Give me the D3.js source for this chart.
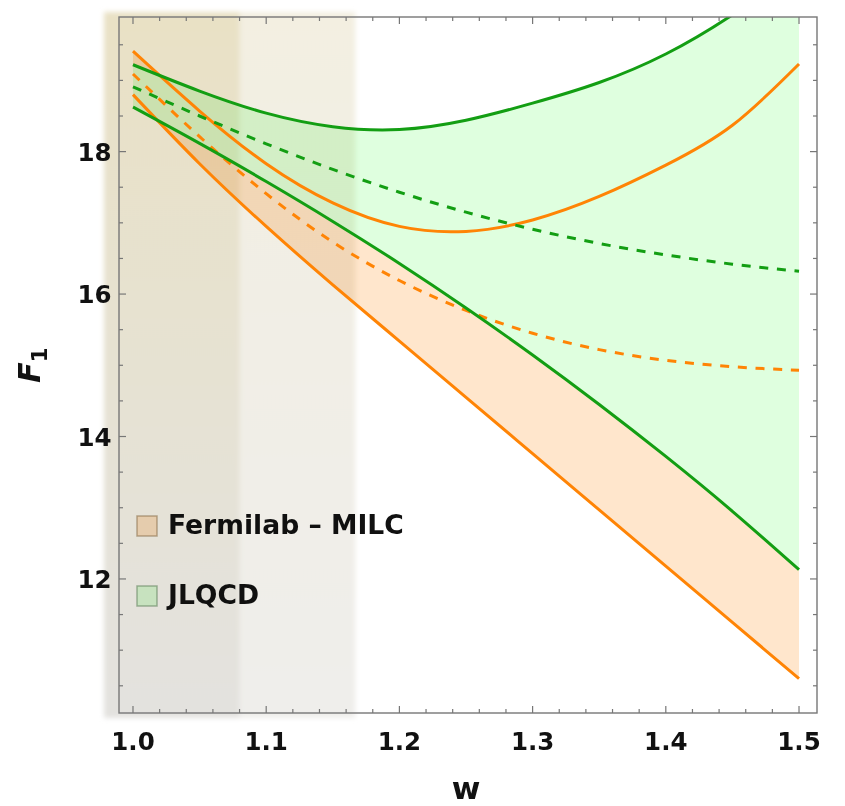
<!DOCTYPE html>
<html>
<head>
<meta charset="utf-8">
<script src="https://cdn.jsdelivr.net/npm/d3@7"></script>
<style>
  html, body { margin: 0; padding: 0; background: #fff; }
  svg { display: block; }
  text { font-family: "DejaVu Sans", sans-serif; font-weight: bold; fill: #111; }
</style>
</head>
<body>
<svg id="chart" width="845" height="806"></svg>
<script>
// Recoil variable grid and F1 form-factor bands
const wGrid = [1.00, 1.05, 1.10, 1.15, 1.20, 1.25, 1.30, 1.35, 1.40, 1.45, 1.50];

// Fermilab-MILC: upper edge, central value, lower edge
const fnalUpper   = [19.41, 18.57, 17.83, 17.28, 16.95, 16.88, 17.04, 17.37, 17.81, 18.37, 19.23];
const fnalCentral = [19.09, 18.21, 17.41, 16.73, 16.19, 15.77, 15.45, 15.22, 15.07, 14.98, 14.93];
const fnalLower   = [18.80, 17.83, 16.95, 16.13, 15.34, 14.55, 13.76, 12.97, 12.18, 11.39, 10.60];

// JLQCD: upper edge, central value, lower edge
const jlqcdUpper   = [19.22, 18.85, 18.54, 18.35, 18.31, 18.44, 18.68, 18.97, 19.37, 19.92, 20.58];
const jlqcdCentral = [18.91, 18.50, 18.11, 17.75, 17.43, 17.15, 16.91, 16.71, 16.55, 16.42, 16.32];
const jlqcdLower   = [18.625, 18.115, 17.58, 17.02, 16.43, 15.805, 15.145, 14.45, 13.72, 12.95, 12.13];

// Axis ticks
const xTicks = [1.0, 1.1, 1.2, 1.3, 1.4, 1.5];
const yTicks = [12, 14, 16, 18];
const xMinorStep = 0.02;
const yMinorStep = 0.5;

// Legend entries and the shaded w-ranges at small recoil (outer, inner)
const legendLabels = ["Fermilab \u2013 MILC", "JLQCD"];
const bandEnds = [1.167, 1.08];

const orangeLine = "#ff8405", greenLine = "#139e13";
const orangeFill = "#ffe6cc", greenFill = "#dfffdf";

const svg = d3.select("#chart");
const frame = { left: 119, right: 817, top: 17, bottom: 713 };

const x = d3.scaleLinear().domain([0.9895, 1.5135]).range([frame.left, frame.right]);
const y = d3.scaleLinear().domain([10.118, 19.89]).range([frame.bottom, frame.top]);

const defs = svg.append("defs");
defs.append("clipPath").attr("id", "plotClip")
  .append("rect")
  .attr("x", frame.left).attr("y", frame.top)
  .attr("width", frame.right - frame.left).attr("height", frame.bottom - frame.top);

defs.append("filter").attr("id", "soft").attr("x", "-20%").attr("y", "-5%").attr("width", "140%").attr("height", "110%")
  .append("feGaussianBlur").attr("stdDeviation", 2.5);

function vGrad(id, top, bottom) {
  const g = defs.append("linearGradient").attr("id", id)
    .attr("x1", 0).attr("y1", 0).attr("x2", 0).attr("y2", 1);
  g.append("stop").attr("offset", "0%").attr("stop-color", top);
  g.append("stop").attr("offset", "100%").attr("stop-color", bottom);
}
vGrad("bandLight", "#f3efe1", "#efeeeb");
vGrad("bandDark", "#e9e1c5", "#e3e2df");

const pts = arr => wGrid.map((w, i) => [w, arr[i]]);
const curve = d3.curveNatural;

const line = d3.line().x(d => x(d[0])).y(d => y(d[1])).curve(curve);
const area = (up, lo) => d3.area()
  .x(d => x(d.w)).y0(d => y(d.lo)).y1(d => y(d.up)).curve(curve)(
    wGrid.map((w, i) => ({ w, up: up[i], lo: lo[i] })));

// error bands
const fills = svg.append("g").attr("clip-path", "url(#plotClip)");
fills.append("path").attr("d", area(fnalUpper, fnalLower)).attr("fill", orangeFill);
fills.append("path").attr("d", area(jlqcdUpper, jlqcdLower)).attr("fill", greenFill);

// legend
const legend = svg.append("g");
const legendColors = [[orangeFill, "rgba(150,120,80,0.55)"], [greenFill, "rgba(100,140,100,0.55)"]];
const legendRows = [534, 604];
legendLabels.forEach((lab, i) => {
  legend.append("rect")
    .attr("x", 137).attr("y", legendRows[i] - 18)
    .attr("width", 20).attr("height", 20)
    .attr("fill", legendColors[i][0])
    .attr("stroke", legendColors[i][1]).attr("stroke-width", 1.5);
  legend.append("text")
    .attr("x", 168).attr("y", legendRows[i])
    .attr("font-size", 26.6)
    .attr("fill", "#1c1c1c")
    .text(lab);
});

// shaded low-recoil region
const band = svg.append("g")
  .style("mix-blend-mode", "multiply")
  .attr("filter", "url(#soft)");
bandEnds.forEach((wEnd, i) => {
  band.append("rect")
    .attr("x", frame.left - 15)
    .attr("y", frame.top - 5)
    .attr("width", x(wEnd) - (frame.left - 15))
    .attr("height", frame.bottom - frame.top + 10)
    .attr("fill", i === 0 ? "url(#bandLight)" : "url(#bandDark)");
});

// curves
const lines = svg.append("g").attr("clip-path", "url(#plotClip)")
  .attr("fill", "none").attr("stroke-width", 3).attr("stroke-linejoin", "round");
[
  [fnalUpper, orangeLine, null],
  [fnalLower, orangeLine, null],
  [fnalCentral, orangeLine, "9,8.7"],
  [jlqcdUpper, greenLine, null],
  [jlqcdLower, greenLine, null],
  [jlqcdCentral, greenLine, "9,8.7"]
].forEach(([arr, col, dash]) => {
  lines.append("path").attr("d", line(pts(arr)))
    .attr("stroke", col)
    .attr("stroke-dasharray", dash);
});

// frame with inward ticks on all four sides
const axisCol = "#777";
const ax = svg.append("g").attr("stroke", axisCol).attr("fill", "none");
ax.append("rect")
  .attr("x", frame.left).attr("y", frame.top)
  .attr("width", frame.right - frame.left).attr("height", frame.bottom - frame.top)
  .attr("stroke-width", 1.4);

const isMajor = (v, majors) => majors.some(m => Math.abs(m - v) < 1e-6);
const xMinor = d3.range(0, 26).map(k => 1.0 + k * xMinorStep);
xMinor.forEach(v => {
  const len = isMajor(v, xTicks) ? 7 : 4;
  const px = x(v);
  ax.append("line").attr("x1", px).attr("x2", px).attr("y1", frame.bottom).attr("y2", frame.bottom - len).attr("stroke-width", 1.2);
  ax.append("line").attr("x1", px).attr("x2", px).attr("y1", frame.top).attr("y2", frame.top + len).attr("stroke-width", 1.2);
});
const yMinor = d3.range(0, 19).map(k => 10.5 + k * yMinorStep);
yMinor.forEach(v => {
  const len = isMajor(v, yTicks) ? 7 : 4;
  const py = y(v);
  ax.append("line").attr("x1", frame.left).attr("x2", frame.left + len).attr("y1", py).attr("y2", py).attr("stroke-width", 1.2);
  ax.append("line").attr("x1", frame.right).attr("x2", frame.right - len).attr("y1", py).attr("y2", py).attr("stroke-width", 1.2);
});

// tick labels
svg.append("g").selectAll("text").data(xTicks).join("text")
  .attr("x", d => x(d)).attr("y", 749.5)
  .attr("text-anchor", "middle").attr("font-size", 24.5)
  .text(d => d3.format(".1f")(d));
svg.append("g").selectAll("text").data(yTicks).join("text")
  .attr("x", frame.left - 7.5).attr("y", d => y(d) + 9)
  .attr("text-anchor", "end").attr("font-size", 24.5)
  .text(d => d);

// axis titles
svg.append("text")
  .attr("x", (x(1.0) + x(1.5)) / 2).attr("y", 799)
  .attr("text-anchor", "middle").attr("font-size", 31)
  .text("w");

const yt = svg.append("text")
  .attr("transform", `translate(40,${y(15)}) rotate(-90)`)
  .attr("text-anchor", "middle").attr("font-size", 30);
yt.append("tspan").attr("font-style", "italic").text("F");
yt.append("tspan").attr("font-size", 21).attr("dy", 7).text("1");
</script>
</body>
</html>
